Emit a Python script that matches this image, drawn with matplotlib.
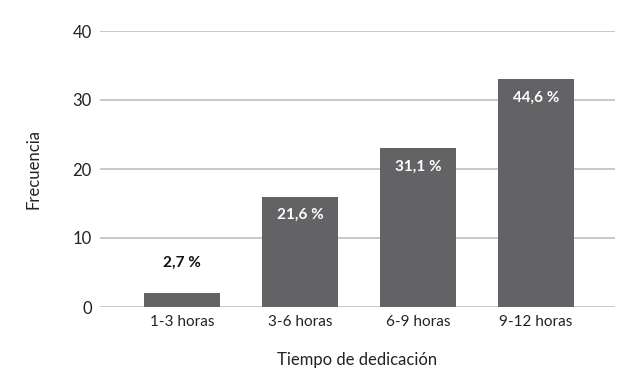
import matplotlib
matplotlib.use("Agg")
import matplotlib.pyplot as plt

categories = ["1-3 horas", "3-6 horas", "6-9 horas", "9-12 horas"]
values = [2, 16, 23, 33]
pct_labels = ["2,7 %", "21,6 %", "31,1 %", "44,6 %"]
yticks = [0, 10, 20, 30, 40]

plt.rcParams['font.family'] = ['Lato', 'DejaVu Sans']

fig = plt.figure(figsize=(6.4, 3.84), dpi=100)
ax = fig.add_axes([100/640, 1-307/384, 515/640, 276/384])

x = list(range(len(categories)))
bars = ax.bar(x, values, width=0.645, color="#636366", zorder=3)

ax.set_xlim(-0.695, 3.67)
ax.set_ylim(0, 40)
ax.set_yticks(yticks)
ax.set_xticks(x)
ax.set_xticklabels(categories, fontsize=11, color="#222222")
ax.tick_params(axis='y', labelsize=12, colors="#222222", length=0, pad=6)
ax.tick_params(axis='x', length=0, pad=6)
ax.grid(axis='y', color="#c8c8c8", linewidth=1.4, zorder=0)
for s in ax.spines.values():
    s.set_visible(False)

for i, (v, lab) in enumerate(zip(values, pct_labels)):
    if i == 0:
        ax.annotate(lab, (i, v), xytext=(0, 22), textcoords="offset points",
                    ha="center", va="center", fontsize=11, fontweight="bold", color="#111111")
    else:
        ax.annotate(lab, (i, v), xytext=(0, -13), textcoords="offset points",
                    ha="center", va="center", fontsize=11, fontweight="bold", color="white", zorder=4)

ax.set_xlabel("Tiempo de dedicación", fontsize=12, color="#222222", labelpad=16)
ax.set_ylabel("Frecuencia", fontsize=12, color="#222222", labelpad=22)

fig.savefig("out.png", dpi=100)
